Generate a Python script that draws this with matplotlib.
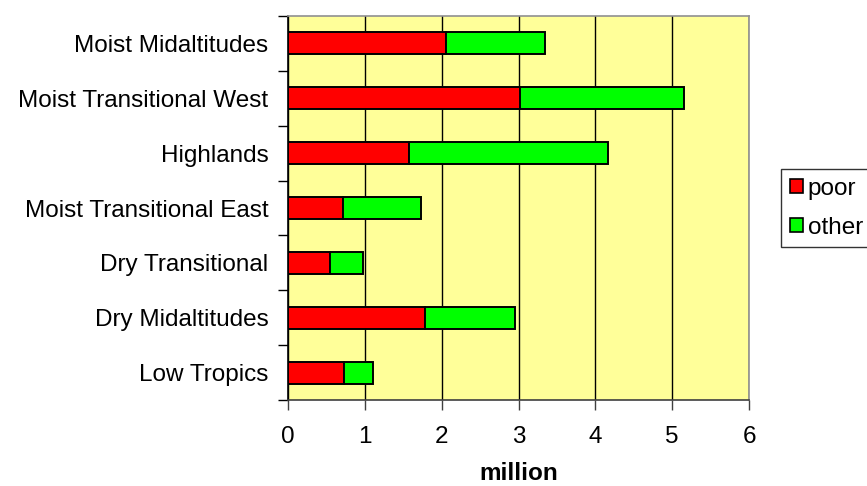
import matplotlib
matplotlib.use("Agg")
import matplotlib.pyplot as plt
import numpy as np

plt.rcParams['font.family'] = ['Liberation Sans', 'DejaVu Sans']

# Zones listed bottom-to-top
zones = ["Low Tropics", "Dry Midaltitudes", "Dry Transitional",
         "Moist Transitional East", "Highlands", "Moist Transitional West",
         "Moist Midaltitudes"]
poor = [0.73, 1.78, 0.54, 0.71, 1.58, 3.02, 2.05]
other = [0.37, 1.18, 0.43, 1.02, 2.59, 2.13, 1.29]
x_ticks = [0, 1, 2, 3, 4, 5, 6]

fs = 17.5
fig = plt.figure(figsize=(8.67, 4.86), dpi=100)
ax = fig.add_axes([0.3322, 0.177, 0.5317, 0.790])
ax.set_facecolor("#FFFF99")

y = np.arange(len(zones))
h = 0.4
ax.barh(y, poor, height=h, color="#FF0000", edgecolor="black", linewidth=1.4,
        label="poor", zorder=3)
ax.barh(y, other, left=poor, height=h, color="#00FF00", edgecolor="black",
        linewidth=1.4, label="other", zorder=3)

ax.set_xlim(0, 6)
ax.set_ylim(-0.5, len(zones) - 0.5)
ax.set_xticks(x_ticks)
ax.set_xticklabels([str(t) for t in x_ticks], fontsize=fs)
ax.xaxis.grid(True, color="black", linewidth=1.0, zorder=1)
ax.set_axisbelow(True)

ax.set_yticks(y)
ax.set_yticklabels(zones, fontsize=fs)
ax.set_yticks(np.arange(-0.5, len(zones), 1.0), minor=True)
ax.tick_params(axis="y", which="major", length=0, pad=14)
ax.tick_params(axis="y", which="minor", length=7, width=1, color="black",
               direction="out")
ax.tick_params(axis="x", which="major", length=7, width=1, color="#404040",
               direction="out", pad=12)

ax.set_xlabel("million", fontsize=fs, fontweight="bold", labelpad=10)

ax.spines["left"].set_color("black")
ax.spines["bottom"].set_color("#404040")
ax.spines["top"].set_color("#909090")
ax.spines["right"].set_color("#909090")
for s in ax.spines.values():
    s.set_linewidth(1.2)

leg = fig.legend(loc="upper left", bbox_to_anchor=(0.901, 0.652),
                 bbox_transform=fig.transFigure, borderaxespad=0,
                 fontsize=fs, frameon=True, fancybox=False,
                 handlelength=0.55, handleheight=0.55, handletextpad=0.2,
                 labelspacing=0.7, borderpad=0.35)
leg.get_frame().set_edgecolor("black")
leg.get_frame().set_linewidth(1.0)
for p in leg.get_patches():
    p.set_linewidth(1.2)

fig.savefig("out.png", dpi=100)
